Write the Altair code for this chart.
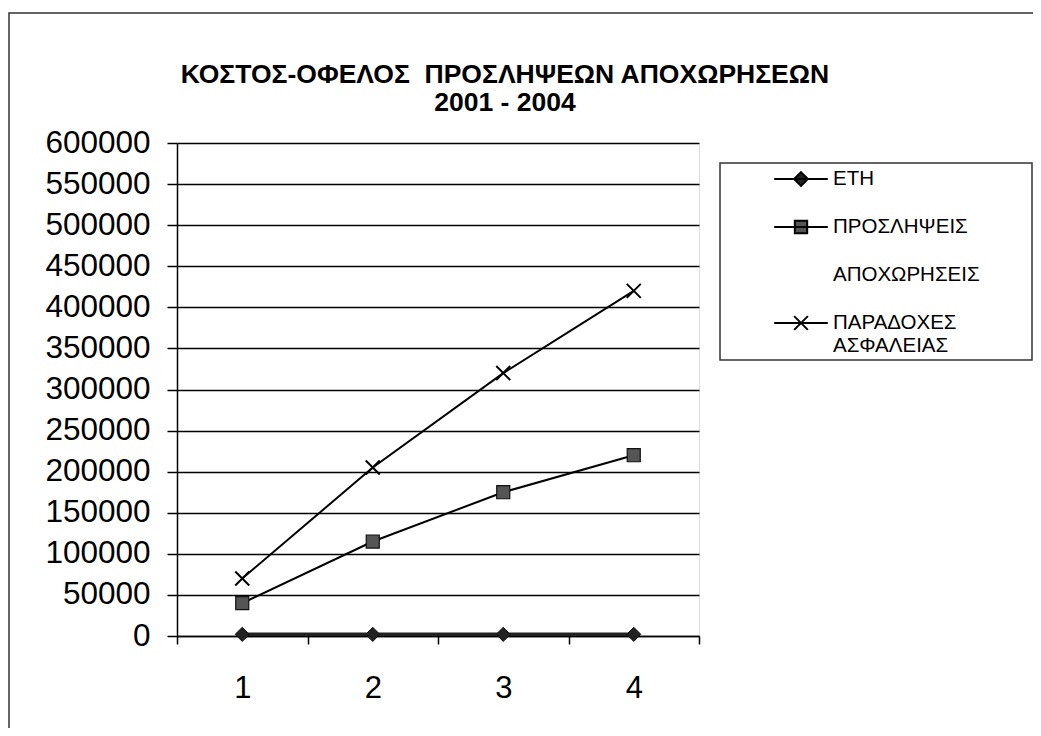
import altair as alt
import pandas as pd

# ---- data ----
x_labels = ["1", "2", "3", "4"]
series_names = ["ΕΤΗ", "ΠΡΟΣΛΗΨΕΙΣ", "ΑΠΟΧΩΡΗΣΕΙΣ", "ΠΑΡΑΔΟΧΕΣ ΑΣΦΑΛΕΙΑΣ"]
eth = [2001, 2002, 2003, 2004]
proslipseis = [40000, 115000, 175000, 220000]
apoxoriseis = [None, None, None, None]
paradoxes = [70000, 205000, 320000, 420000]
y_ticks = list(range(0, 600001, 50000))
title_lines = ["ΚΟΣΤΟΣ-ΟΦΕΛΟΣ\u00a0 ΠΡΟΣΛΗΨΕΩΝ ΑΠΟΧΩΡΗΣΕΩΝ", "2001 - 2004"]

rows = []
for name, vals in zip(series_names, [eth, proslipseis, apoxoriseis, paradoxes]):
    for xl, v in zip(x_labels, vals):
        rows.append({"x": xl, "series": name, "value": v})
df = pd.DataFrame(rows)

FONT = "Liberation Sans"

x_enc = alt.X(
    "x:O",
    sort=x_labels,
    title=None,
    scale=alt.Scale(paddingInner=0, paddingOuter=0),
    axis=alt.Axis(
        labelAngle=0,
        labelFontSize=31,
        labelFont=FONT,
        labelColor="black",
        labelPadding=29,
        tickBand="extent",
        tickSize=8,
        tickColor="black",
        tickWidth=1.5,
        domainColor="black",
        domainWidth=1.5,
        grid=False,
    ),
)
y_enc = alt.Y(
    "value:Q",
    title=None,
    scale=alt.Scale(domain=[0, 600000], nice=False, zero=True),
    axis=alt.Axis(
        values=y_ticks,
        format="d",
        labelFontSize=31.5,
        labelFont=FONT,
        labelColor="black",
        labelPadding=17,
        tickSize=10,
        tickColor="black",
        tickWidth=1.5,
        domainColor="black",
        domainWidth=1.5,
        grid=True,
        gridColor="black",
        gridWidth=1.5,
    ),
)

base = alt.Chart(df)

def only(name):
    return alt.datum.series == name

line_eth = base.mark_line(color="#222", strokeWidth=3.5).encode(x=x_enc, y=y_enc).transform_filter(only("ΕΤΗ"))
line_pro = base.mark_line(color="black", strokeWidth=2).encode(x=x_enc, y=y_enc).transform_filter(only("ΠΡΟΣΛΗΨΕΙΣ"))
line_par = base.mark_line(color="black", strokeWidth=2).encode(x=x_enc, y=y_enc).transform_filter(only("ΠΑΡΑΔΟΧΕΣ ΑΣΦΑΛΕΙΑΣ"))

pt_eth = base.mark_point(shape="diamond", filled=True, fill="#222", stroke="#111", strokeWidth=1, size=200, opacity=1).encode(x=x_enc, y=y_enc).transform_filter(only("ΕΤΗ"))
pt_pro = base.mark_point(shape="square", filled=True, fill="#555", stroke="#111", strokeWidth=1.2, size=170, opacity=1).encode(x=x_enc, y=y_enc).transform_filter(only("ΠΡΟΣΛΗΨΕΙΣ"))
pt_par = base.mark_point(shape="M-1,-1L1,1M-1,1L1,-1", filled=False, stroke="black", strokeWidth=2, size=196, opacity=1).encode(x=x_enc, y=y_enc).transform_filter(only("ΠΑΡΑΔΟΧΕΣ ΑΣΦΑΛΕΙΑΣ"))

# legend symbols: short line with marker
legend_paths = [
    "M-1.95,0H1.95M0,-0.5L0.5,0L0,0.5L-0.5,0Z",
    "M-1.95,0H1.95M-0.45,-0.45H0.45V0.45H-0.45Z",
    "M0,0",
    "M-1.95,0H1.95M-0.5,-0.5L0.5,0.5M-0.5,0.5L0.5,-0.5",
]
legend_fills = ["#222", "#555", "#333", "#333"]
legend_strokes = ["black", "black", "black", "black"]

legend_def = alt.Legend(
    title=None,
    orient="none",
    legendX=609,
    legendY=21,
    padding=0,
    symbolSize=756,
    symbolStrokeWidth=2,
    symbolOpacity=1,
    labelFont=FONT,
    labelFontSize=20.5,
    labelColor="black",
    labelOffset=17,
    rowPadding=22,
    labelExpr="split(datum.label, ' ')",
)

legend_layer = base.mark_point(filled=True, strokeWidth=2, size=756, opacity=1).encode(
    x=x_enc,
    y=y_enc,
    fill=alt.Fill("series:N", scale=alt.Scale(domain=series_names, range=legend_fills), legend=legend_def),
    stroke=alt.Stroke("series:N", scale=alt.Scale(domain=series_names, range=legend_strokes), legend=legend_def),
    shape=alt.Shape("series:N", scale=alt.Scale(domain=series_names, range=legend_paths), legend=legend_def),
).transform_filter("false")

one = pd.DataFrame({"k": [0]})
outer_box = alt.Chart(one).mark_rect(fill=None, stroke="#333", strokeWidth=1.5, clip=False).encode(
    x=alt.value(-168), x2=alt.value(900), y=alt.value(-130), y2=alt.value(700)
)
legend_box = alt.Chart(one).mark_rect(fill=None, stroke="#333", strokeWidth=1.5, clip=False).encode(
    x=alt.value(543), x2=alt.value(855), y=alt.value(20), y2=alt.value(217)
)

chart = alt.layer(
    outer_box, legend_box,
    line_eth, line_pro, line_par,
    pt_eth, pt_pro, pt_par,
    legend_layer,
).properties(
    width=522,
    height=493,
    autosize=alt.AutoSizeParams(type="none"),
    padding={"left": 169, "top": 135, "right": 334, "bottom": 92},
    title=alt.TitleParams(
        text=title_lines,
        font=FONT,
        fontSize=26.5,
        fontWeight="bold",
        color="black",
        lineHeight=28,
        anchor="middle",
        frame="group",
        dx=67,
        offset=-104,
    ),
).configure_view(
    stroke="black", strokeWidth=1.5
).configure(background="white")

chart.save("out.html", embed_options={"renderer": "svg", "actions": False})
